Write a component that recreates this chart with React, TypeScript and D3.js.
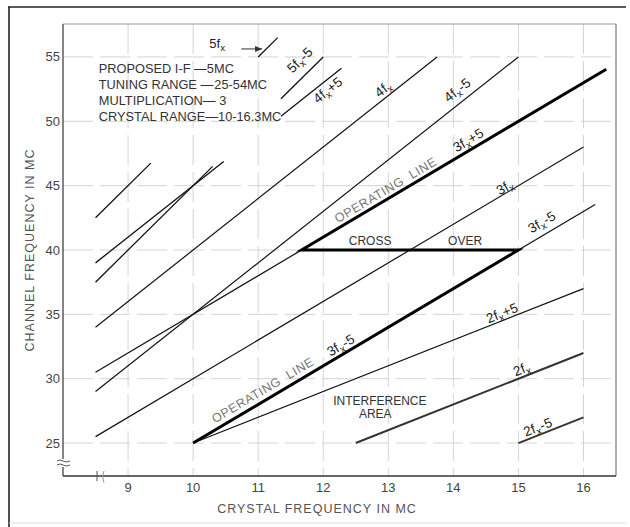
import React from "react";
import * as d3 from "d3";

// ---------- data ----------
const xTicks = [9, 10, 11, 12, 13, 14, 15, 16];
const yTicks = [25, 30, 35, 40, 45, 50, 55];

// thin harmonic lines: y = mult * fx + offset, drawn between start and end crystal freq
const lineMult = [5, 5, 5, 5, 4, 4, 4, 4, 3, 3, 3, 2, 2, 2];
const lineOffset = [0, 0, -5, -5, 5, 5, 0, -5, 5, 0, -5, 5, 0, -5];
const lineStart = [8.5, 11.0, 8.5, 11.35, 8.5, 11.35, 8.5, 8.5, 8.5, 8.5, 15, 10, 12.5, 15];
const lineEnd = [9.35, 11.3, 10.3, 12.0, 10.47, 12.28, 13.75, 15, 11.67, 16, 16.18, 16, 16, 16];
const lineWeight = [1.3, 1.3, 1.3, 1.3, 1.3, 1.3, 1.2, 1.2, 1.2, 1.2, 1.2, 1.2, 2.0, 1.8];

// operating path (thick): 3fx-5 up to crossover, back along 40 MC, then 3fx+5
const opX = [10, 15, 11.667, 16.35];
const opY = [25, 40, 40, 54.05];

// labels along lines
const lblText = ["5fx-5", "4fx+5", "4fx", "4fx-5", "3fx+5", "3fx", "3fx-5", "3fx-5", "2fx+5", "2fx", "2fx-5"];
const lblMult = [5, 4, 4, 4, 3, 3, 3, 3, 2, 2, 2];
const lblX = [11.64, 12.07, 12.92, 14.06, 14.23, 14.79, 15.36, 12.27, 14.75, 15.05, 15.3];
const lblY = [54.77, 52.44, 52.52, 52.44, 48.55, 44.9, 42.18, 32.62, 35.11, 30.76, 26.25];

const opLblText = ["OPERATING  LINE", "OPERATING  LINE"];
const opLblX = [12.96, 11.07];
const opLblY = [44.67, 29.12];

const plainText = ["CROSS", "OVER", "INTERFERENCE", "AREA"];
const plainX = [12.72, 14.18, 12.87, 12.8];
const plainY = [40.39, 40.39, 27.96, 26.95];

const legendLines = [
  "PROPOSED I-F \u20145MC",
  "TUNING RANGE \u2014\u200a25-54MC",
  "MULTIPLICATION\u2014 3",
  "CRYSTAL RANGE\u201410-16.3MC",
];
const legendX = 8.55;
const legendY = [53.76, 52.52, 51.28, 50.04];

const W = 630;
const H = 527;
const FONT = "'Liberation Sans', Arial, sans-serif";

function SubLabel({ text, size }: { text: string; size: number }) {
  const i = text.indexOf("f");
  const pre = text.slice(0, i + 1);
  const post = text.slice(i + 2);
  return (
    <>
      <tspan>{pre}</tspan>
      <tspan dy={3} fontSize={size * 0.75}>x</tspan>
      <tspan dy={-3}>{post}</tspan>
    </>
  );
}

export default function App() {
  const x = d3.scaleLinear().domain([8, 16.5]).range([63, 616]);
  const y = d3.scaleLinear().domain([22.44, 57.56]).range([476, 24]);
  const angle = (k: number) =>
    (-Math.atan((k * (y(0) - y(1))) / (x(1) - x(0))) * 180) / Math.PI;

  const line = d3
    .line<[number, number]>()
    .x((d) => x(d[0]))
    .y((d) => y(d[1]));

  const opPts: [number, number][] = opX.map((v, i) => [v, opY[i]]);

  return (
    <svg
      width={W}
      height={H}
      style={{ position: "absolute", left: 0, top: 0, background: "#fff" }}
      fontFamily={FONT}
    >
      <rect x={0} y={0} width={W} height={H} fill="#fff" />
      {/* outer frame */}
      <line x1={9} y1={7} x2={9} y2={527} stroke="#222" strokeWidth={1.6} />
      <line x1={8} y1={7} x2={626} y2={7} stroke="#222" strokeWidth={1.4} />
      <line x1={9} y1={523} x2={626} y2={523} stroke="#ddd" strokeWidth={1} />

      {/* grid */}
      {xTicks.map((t) => (
        <line
          key={"gx" + t}
          x1={x(t)}
          x2={x(t)}
          y1={y.range()[1]}
          y2={y.range()[0]}
          stroke="#cfcfcf"
          strokeWidth={0.9}
          strokeDasharray="30 7"
        />
      ))}
      {yTicks.map((t) => (
        <line
          key={"gy" + t}
          x1={x.range()[0]}
          x2={x.range()[1]}
          y1={y(t)}
          y2={y(t)}
          stroke="#cfcfcf"
          strokeWidth={0.9}
          strokeDasharray="30 7"
        />
      ))}

      {/* plot frame */}
      <line x1={63} y1={24} x2={616} y2={24} stroke="#999" strokeWidth={1} />
      <line x1={616} y1={24} x2={616} y2={476} stroke="#777" strokeWidth={1.2} />
      <line x1={63} y1={24} x2={63} y2={459} stroke="#333" strokeWidth={1.2} />
      <line x1={63} y1={467} x2={63} y2={476} stroke="#333" strokeWidth={1.2} />
      <line x1={63} y1={476} x2={616} y2={476} stroke="#333" strokeWidth={1.4} />
      {/* axis breaks */}
      <path d="M57,461 q3,-2 6,0 q3,2 7,0" fill="none" stroke="#555" strokeWidth={1} />
      <path d="M57,465 q3,-2 6,0 q3,2 7,0" fill="none" stroke="#555" strokeWidth={1} />
      <path d="M97,471 L97,481" stroke="#555" strokeWidth={1} />
      <path d="M104,471 q-3,5 0,12" fill="none" stroke="#999" strokeWidth={1} />

      {/* tick labels */}
      {yTicks.map((t) => (
        <text
          key={"ty" + t}
          x={60}
          y={y(t)}
          dy="0.35em"
          textAnchor="end"
          fontSize={13}
          fill="#444"
        >
          {t}
        </text>
      ))}
      {xTicks.map((t) => (
        <text
          key={"tx" + t}
          x={x(t)}
          y={492}
          textAnchor="middle"
          fontSize={13}
          fill="#444"
        >
          {t}
        </text>
      ))}

      {/* axis titles */}
      <text
        x={317}
        y={513}
        textAnchor="middle"
        fontSize={12.5}
        letterSpacing={1}
        fill="#555"
      >
        CRYSTAL FREQUENCY IN MC
      </text>
      <text
        transform="translate(34,250) rotate(-90)"
        textAnchor="middle"
        fontSize={12.5}
        letterSpacing={1}
        fill="#555"
      >
        CHANNEL FREQUENCY IN MC
      </text>

      {/* thin lines */}
      {lineMult.map((k, i) => (
        <path
          key={"l" + i}
          d={
            line([
              [lineStart[i], k * lineStart[i] + lineOffset[i]],
              [lineEnd[i], k * lineEnd[i] + lineOffset[i]],
            ]) || ""
          }
          stroke={i >= 12 ? "#333" : "#111"}
          strokeWidth={lineWeight[i]}
          fill="none"
        />
      ))}

      {/* operating path */}
      <path
        d={line(opPts) || ""}
        stroke="#000"
        strokeWidth={3}
        fill="none"
        strokeLinejoin="miter"
      />

      {/* 5fx arrow label */}
      <text x={x(10.37)} y={y(55.7)} textAnchor="middle" fontSize={13} fill="#222">
        <SubLabel text="5fx" size={13} />
      </text>
      <line x1={x(10.74)} y1={y(55.62)} x2={x(11.06)} y2={y(55.62)} stroke="#333" strokeWidth={1} />
      <path
        d={`M${x(11.06)},${y(55.62)} l-7,-3 l0,6 z`}
        fill="#333"
      />

      {/* line labels */}
      {lblText.map((t, i) => (
        <text
          key={"lb" + i}
          transform={`translate(${x(lblX[i])},${y(lblY[i])}) rotate(${angle(lblMult[i])})`}
          textAnchor="middle"
          dy="0.35em"
          fontSize={13.5}
          letterSpacing={0.3}
          fill="#222"
        >
          <SubLabel text={t} size={13.5} />
        </text>
      ))}
      {opLblText.map((t, i) => (
        <text
          key={"op" + i}
          transform={`translate(${x(opLblX[i])},${y(opLblY[i])}) rotate(${angle(3)})`}
          textAnchor="middle"
          dy="0.35em"
          fontSize={12.5}
          letterSpacing={0.6}
          fill="#777"
          style={{ whiteSpace: "pre" }}
        >
          {t}
        </text>
      ))}
      {plainText.map((t, i) => (
        <text
          key={"pt" + i}
          x={x(plainX[i])}
          y={y(plainY[i])}
          textAnchor="middle"
          fontSize={12}
          fill="#333"
        >
          {t}
        </text>
      ))}

      {/* legend */}
      {legendLines.map((t, i) => (
        <text
          key={"lg" + i}
          x={x(legendX)}
          y={y(legendY[i])}
          fontSize={12.8}
          fill="#333"
        >
          {t}
        </text>
      ))}
    </svg>
  );
}
